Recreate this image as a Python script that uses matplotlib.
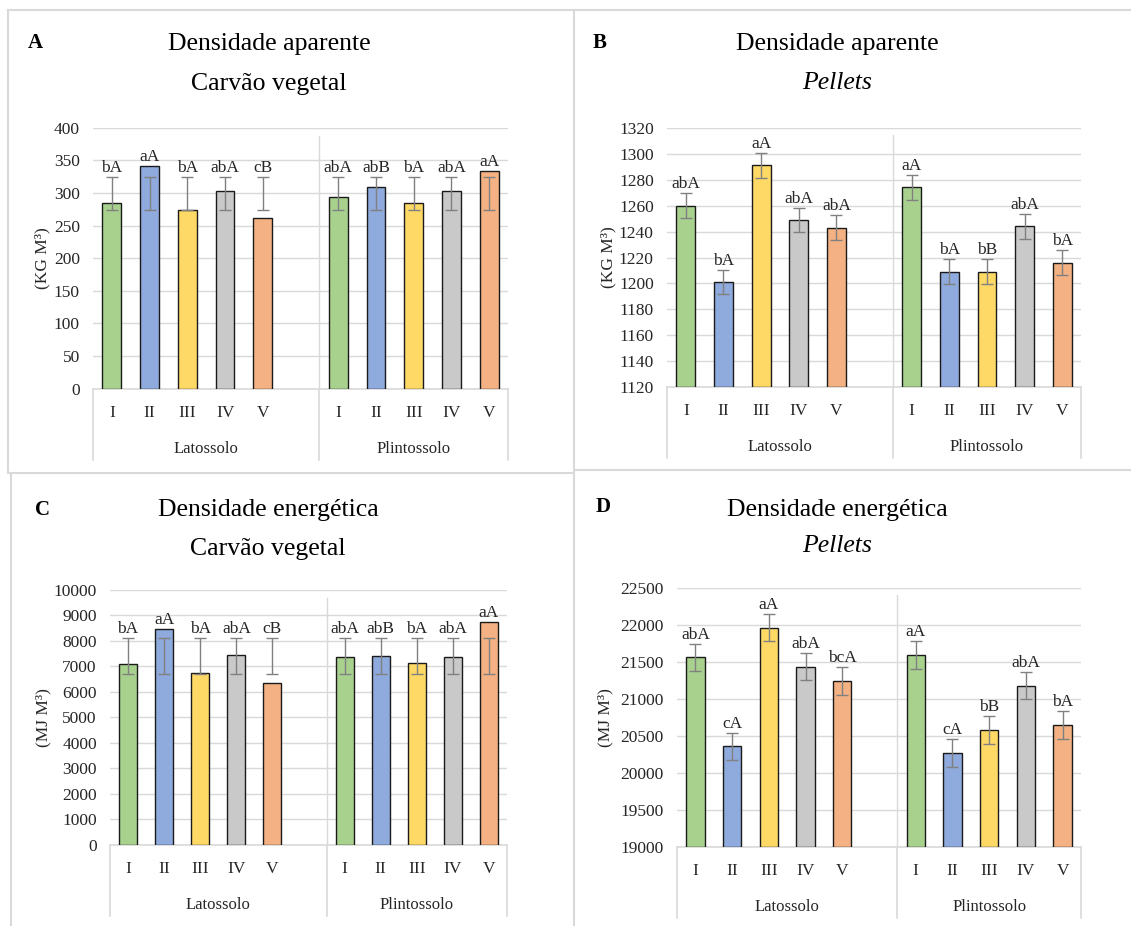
import numpy as np
import matplotlib
matplotlib.use('Agg')
import matplotlib.pyplot as plt
from matplotlib.lines import Line2D

plt.rcParams['font.family'] = ['Liberation Serif', 'DejaVu Serif']

# ---- data ----
categories = ['I', 'II', 'III', 'IV', 'V']
groups = ['Latossolo', 'Plintossolo']
bar_colors = ['#A9D18E', '#8FAADC', '#FFD966', '#C9C9C9', '#F4B183']

# A - densidade aparente, carvao vegetal (kg m-3)
dens_carvao = [284, 342, 274, 303, 262, 294, 309, 284, 303, 334]
dens_carvao_lo = [274, 274, 274, 274, 274, 274, 274, 274, 274, 274]
dens_carvao_hi = [324, 324, 324, 324, 324, 324, 324, 324, 324, 324]
dens_carvao_let = ['bA', 'aA', 'bA', 'abA', 'cB', 'abA', 'abB', 'bA', 'abA', 'aA']

# B - densidade aparente, pellets (kg m-3)
dens_pellets = [1260, 1201, 1291, 1249, 1243, 1274, 1209, 1209, 1244, 1216]
dens_pellets_err = [9.5, 9.5, 9.5, 9.5, 9.5, 9.5, 9.5, 9.5, 9.5, 9.5]
dens_pellets_let = ['abA', 'bA', 'aA', 'abA', 'abA', 'aA', 'bA', 'bB', 'abA', 'bA']

# C - densidade energetica, carvao vegetal (MJ m-3)
energ_carvao = [7100, 8460, 6760, 7450, 6340, 7350, 7410, 7140, 7350, 8730]
energ_carvao_lo = [6720, 6720, 6720, 6720, 6720, 6720, 6720, 6720, 6720, 6720]
energ_carvao_hi = [8130, 8130, 8130, 8130, 8130, 8130, 8130, 8130, 8130, 8130]
energ_carvao_let = ['bA', 'aA', 'bA', 'abA', 'cB', 'abA', 'abB', 'bA', 'abA', 'aA']

# D - densidade energetica, pellets (MJ m-3)
energ_pellets = [21560, 20360, 21960, 21435, 21245, 21590, 20270, 20580, 21180, 20650]
energ_pellets_err = [185, 185, 185, 185, 185, 185, 185, 185, 185, 185]
energ_pellets_let = ['abA', 'cA', 'aA', 'abA', 'bcA', 'aA', 'cA', 'bB', 'abA', 'bA']

W, H = 1131, 926
fig = plt.figure(figsize=(W / 100, H / 100), dpi=100)
GRID = '#d9d9d9'
TXT = '#262626'


def fx(x):
    return x / W


def fy(y):
    return 1 - y / H


def fig_line(xs, ys):
    fig.add_artist(Line2D([fx(x) for x in xs], [fy(y) for y in ys],
                          color=GRID, lw=1.5, transform=fig.transFigure))


def draw_panel(box, ylim, ystep, vals, lo, hi, letters, ylabel, ylab_x,
               title1, title2, italic2, title_x, title_y, letter, letter_xy):
    l, t, r, b = box
    ax = fig.add_axes([fx(l), fy(b), fx(r - l), (b - t) / H])
    # 11 slots, slot 5 left empty between the two soils
    xpos = [0, 1, 2, 3, 4, 6, 7, 8, 9, 10]
    cols = bar_colors * 2
    bottom = ylim[0]
    ax.bar(xpos, np.array(vals) - bottom, bottom=bottom, width=0.5,
           color=cols, edgecolor='#1a1a1a', linewidth=1.0, zorder=3)
    lo = np.array(lo, dtype=float)
    hi = np.array(hi, dtype=float)
    ax.errorbar(xpos, (lo + hi) / 2, yerr=(hi - lo) / 2, fmt='none',
                ecolor='#808080', elinewidth=1.0, capsize=4.5, capthick=1.0,
                zorder=4)
    for x, v, h, s in zip(xpos, vals, hi, letters):
        ax.annotate(s, (x, max(v, h)), xytext=(0, 1), textcoords='offset pixels',
                    ha='center', va='bottom', fontsize=12.5, color=TXT, zorder=5)

    ax.set_xlim(-0.5, 10.5)
    ax.set_ylim(*ylim)
    ax.set_yticks(np.arange(ylim[0], ylim[1] + ystep / 2, ystep))
    ax.yaxis.grid(True, color=GRID, lw=1.0, zorder=0)
    ax.set_axisbelow(True)
    for sp in ['left', 'right', 'top']:
        ax.spines[sp].set_visible(False)
    ax.spines['bottom'].set_color(GRID)
    ax.spines['bottom'].set_linewidth(1.2)
    ax.set_xticks([])
    ax.tick_params(axis='y', length=0, pad=9.5, labelsize=12.5, labelcolor=TXT)

    # group separator inside the plot
    ax.axvline(5.5, ymin=0, ymax=0.97, color=GRID, lw=1.0, zorder=1)

    # category axis below the plot
    hpx = b - t
    trans = ax.get_xaxis_transform()
    for xv in [-0.5, 5.5, 10.5]:
        ax.plot([xv, xv], [0, -71 / hpx], color=GRID, lw=1.2,
                transform=trans, clip_on=False)
    for x, c in zip(xpos, categories * 2):
        ax.annotate(c, (x, 0), xycoords=trans, xytext=(0, -24),
                    textcoords='offset pixels', ha='center', va='center',
                    fontsize=12.5, color=TXT)
    for gx, g in zip([2.5, 8], groups):
        ax.annotate(g, (gx, 0), xycoords=trans, xytext=(0, -60),
                    textcoords='offset pixels', ha='center', va='center',
                    fontsize=12, color=TXT)

    fig.text(fx(ylab_x), fy((t + b) / 2), ylabel, rotation=90, ha='center',
             va='center', fontsize=12.5, color=TXT)
    fig.text(fx(title_x), fy(title_y[0]), title1, ha='center', va='center',
             fontsize=18.5, color='black')
    fig.text(fx(title_x), fy(title_y[1]), title2, ha='center', va='center',
             fontsize=18.5, color='black', style='italic' if italic2 else 'normal')
    fig.text(fx(letter_xy[0]), fy(letter_xy[1]), letter, ha='center',
             va='center', fontsize=15, fontweight='bold', color='black')
    return ax


draw_panel((93, 127.7, 508, 388.7), (0, 400), 50, dens_carvao, dens_carvao_lo,
           dens_carvao_hi, dens_carvao_let, '(KG M³)', 42,
           'Densidade aparente', 'Carvão vegetal', False, 269, (44, 84), 'A', (35, 43))

pel_lo = [v - e for v, e in zip(dens_pellets, dens_pellets_err)]
pel_hi = [v + e for v, e in zip(dens_pellets, dens_pellets_err)]
draw_panel((667, 127.7, 1081, 387.3), (1120, 1320), 20, dens_pellets, pel_lo,
           pel_hi, dens_pellets_let, '(KG M³)', 608,
           'Densidade aparente', 'Pellets', True, 837, (44, 83), 'B', (600, 43))

draw_panel((110, 590, 507, 844.7), (0, 10000), 1000, energ_carvao, energ_carvao_lo,
           energ_carvao_hi, energ_carvao_let, '(MJ M³)', 43,
           'Densidade energética', 'Carvão vegetal', False, 268, (510, 549), 'C', (42, 510))

en_lo = [v - e for v, e in zip(energ_pellets, energ_pellets_err)]
en_hi = [v + e for v, e in zip(energ_pellets, energ_pellets_err)]
draw_panel((677, 587.7, 1081, 847.3), (19000, 22500), 500, energ_pellets, en_lo,
           en_hi, energ_pellets_let, '(MJ M³)', 605,
           'Densidade energética', 'Pellets', True, 837, (510, 546), 'D', (603, 507))

# panel frames
fig_line([8, 1131], [10, 10])
fig_line([8, 8], [10, 473])
fig_line([574, 574], [10, 926])
fig_line([8, 574], [473, 473])
fig_line([574, 1131], [470, 470])
fig_line([11, 11], [473, 926])

fig.savefig('out.png', dpi=100)
